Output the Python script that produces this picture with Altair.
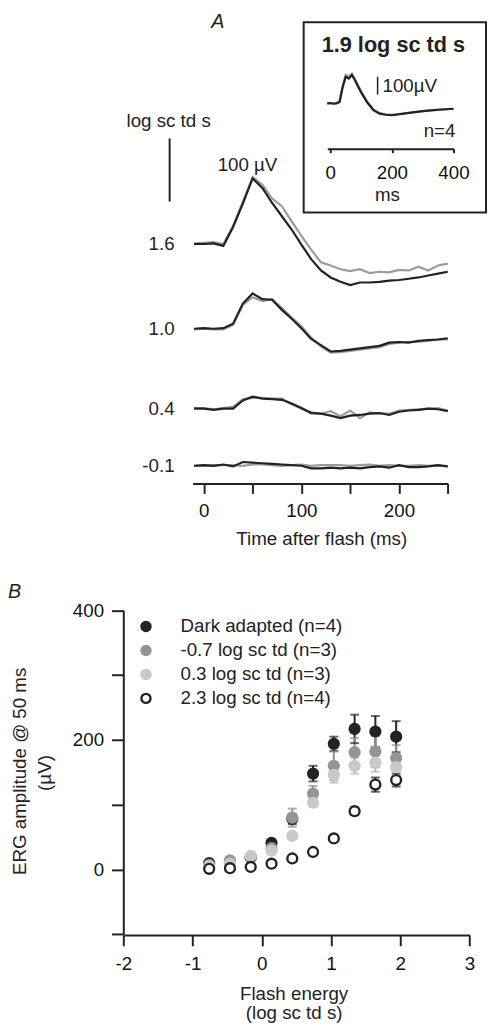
import altair as alt
import pandas as pd

# ---------------- Panel A data: averaged ERG traces (µV) ----------------
t_main = [-10, 0, 10, 20, 30, 40, 50, 60, 70, 80, 90, 100, 110, 120, 130,
          140, 150, 160, 170, 180, 190, 200, 210, 220, 230, 240, 250]
row_labels = ["1.6", "1.0", "0.4", "-0.1"]
dark_16 = [0, 0, 1, -3, 27, 64, 104, 89, 65, 44, 23, -1, -24, -42, -53, -60, -65, -61, -61, -60, -58, -57, -55, -53, -50, -47, -44]
grey_16 = [1, 2, 3, 0, 29, 67, 106, 94, 72, 60, 36, 13, -9, -29, -34, -40, -43, -40, -46, -44, -45, -41, -42, -36, -42, -34, -31]
dark_10 = [0, 1, 0, 1, 8, 40, 56, 47, 46, 30, 16, 1, -16, -26, -36, -35, -33, -31, -29, -27, -22, -21, -22, -19, -18, -17, -15]
grey_10 = [-1, 0, -1, -1, 6, 38, 50, 44, 47, 33, 18, 4, -14, -28, -38, -37, -35, -33, -31, -29, -24, -22, -21, -21, -19, -17, -17]
dark_04 = [0, 0, -2, 0, 0, 13, 19, 16, 15, 14, 8, 1, -7, -8, -11, -15, -11, -10, -8, -7, -10, -5, -3, -2, 0, -1, -4]
grey_04 = [1, 1, -1, 1, 3, 15, 17, 17, 16, 16, 7, 0, -6, -8, -4, -12, -3, -15, -6, -8, -8, -3, -2, -1, 0, 1, -3]
dark_m01 = [0, 1, 0, 2, -1, 6, 5, 4, 3, 2, 1, 0, -4, -4, -3, -4, -3, -4, -2, -1, -3, 1, -2, -2, -1, 1, -1]
grey_m01 = [0, 0, 1, 1, 1, 0, 2, 2, 1, 0, 1, 2, 0, 1, 1, 1, 0, 1, 2, 0, 1, 0, 0, 1, 0, 0, -1]

# inset: 1.9 log sc td s (n=4)
t_inset = [-10, 0, 10, 20, 30, 40, 50, 60, 70, 80, 90, 100, 120, 140, 160, 180, 200, 250, 300, 350, 400]
inset_dark = [0, 2, -2, 0, 8, 90, 150, 140, 160, 130, 95, 62, 5, -38, -58, -64, -67, -55, -44, -36, -30]
inset_grey = [0, 0, 1, 2, 12, 100, 162, 150, 168, 138, 102, 68, 10, -33, -55, -62, -65, -54, -44, -37, -30]

# ---------------- Panel B data: ERG amplitude @ 50 ms (µV) ----------------
energy = [-0.76, -0.46, -0.16, 0.14, 0.44, 0.74, 1.04, 1.34, 1.64, 1.94]
series_names = ["Dark adapted (n=4)", "-0.7 log sc td (n=3)", "0.3 log sc td (n=3)", "2.3 log sc td (n=4)"]
amp_dark = [10, 12, 19, 41, 78, 148, 194, 217, 213, 205]
err_dark = [3, 3, 4, 5, 8, 12, 11, 22, 24, 24]
amp_m07 = [7, 14, 20, 33, 80, 117, 160, 181, 182, 172]
err_m07 = [3, 3, 3, 4, 14, 12, 22, 22, 24, 20]
amp_03 = [5, 9, 21, 29, 52, 103, 146, 160, 165, 158]
err_03 = [2, 2, 3, 3, 4, 6, 12, 12, 14, 14]
amp_23 = [1, 2, 4, 9, 17, 27, 48, 90, 131, 138]
err_23 = [2, 2, 2, 2, 2, 3, 4, 6, 11, 10]

# ---------------- layout / style ----------------
FONT = "Liberation Sans"
INK = "#222222"
TRACE_GREY = "#9c9c9c"
W, H = 486, 1024
row_offsets = [351.6, 217.2, 90.6, 0.0]  # vertical stacking of the trace rows (µV)

xA = alt.Scale(domain=[-11.5, 250], range=[187.3, 446.2], nice=False, zero=False)
yA = alt.Scale(domain=[0, 550], range=[457, 105], nice=False, zero=False)
xI = alt.Scale(domain=[-10, 400], range=[323.9, 452], nice=False, zero=False)
yI = alt.Scale(domain=[-100, 200], range=[107.3, 53.3], nice=False, zero=False)
xB = alt.Scale(domain=[-2, 3], range=[117, 468.3], nice=False, zero=False)
yB = alt.Scale(domain=[-100, 400], range=[932.3, 603.7], nice=False, zero=False)
legY = alt.Scale(type="point", domain=series_names, range=[620, 693], padding=0)

point_fill = ["#232323", "#959595", "#c9c9c9", "#ffffff"]
point_stroke = ["#232323", "#959595", "#c9c9c9", "#232323"]
bar_color = ["#232323", "#8f8f8f", "#b5b5b5", "#232323"]
fill_scale = alt.Scale(domain=series_names, range=point_fill)
stroke_scale = alt.Scale(domain=series_names, range=point_stroke)
bar_scale = alt.Scale(domain=series_names, range=bar_color)

axis_common = dict(grid=False, title=None, domainColor=INK, domainWidth=2, tickColor=INK,
                   tickWidth=2, labelFont=FONT, labelFontSize=19, labelColor="#111111",
                   labelOverlap=False, labelFlush=False)

axisA = alt.Axis(orient="bottom", offset=475 - H, values=[0, 50, 100, 150, 200, 250],
                 labelExpr="datum.value % 100 === 0 ? '' + datum.value : ''",
                 tickSize=10, labelPadding=8, **axis_common)
axisI = alt.Axis(orient="bottom", offset=135.3 - H, values=[0, 200, 400],
                 labelExpr="'' + datum.value",
                 tickSize=4, labelPadding=11, **axis_common)
axisBx = alt.Axis(orient="bottom", offset=933 - H, values=[-2, -1, 0, 1, 2, 3],
                  labelExpr="'' + datum.value",
                  tickSize=11, labelPadding=9, **axis_common)
axisBy = alt.Axis(orient="left", offset=-117, values=[-100, 0, 100, 200, 300, 400],
                  labelExpr="datum.value >= 0 && datum.value % 200 === 0 ? '' + datum.value : ''",
                  tickSize=12, labelPadding=8, **axis_common)

# ---------------- tables ----------------
recs = []
for lab, off, d, g in zip(row_labels, row_offsets,
                          [dark_16, dark_10, dark_04, dark_m01],
                          [grey_16, grey_10, grey_04, grey_m01]):
    for t, vd, vg in zip(t_main, d, g):
        recs.append(dict(row=lab, t=t, series="dark", y=vd + off))
        recs.append(dict(row=lab, t=t, series="grey", y=vg + off))
traces = pd.DataFrame(recs)
rows_df = pd.DataFrame({"row": row_labels, "y": row_offsets})
inset = pd.DataFrame(
    [dict(t=t, v=v, series="dark") for t, v in zip(t_inset, inset_dark)]
    + [dict(t=t, v=v, series="grey") for t, v in zip(t_inset, inset_grey)])

brecs = []
for k, (name, amps, errs) in enumerate(zip(series_names,
                                           [amp_dark, amp_m07, amp_03, amp_23],
                                           [err_dark, err_m07, err_03, err_23])):
    for e, a, s in zip(energy, amps, errs):
        brecs.append(dict(energy=e, amp=a, err=s, series=name, ord=k))
dfB = pd.DataFrame(brecs)
leg_df = pd.DataFrame({"series": series_names})


def txt(s, x, y, size=19, align="center", baseline="alphabetic", angle=0,
        style="normal", weight="normal"):
    return alt.Chart(pd.DataFrame({"s": [s]})).mark_text(
        fontSize=size, align=align, baseline=baseline, angle=angle, font=FONT,
        fontStyle=style, fontWeight=weight, color=INK
    ).encode(x=alt.value(x), y=alt.value(y), text="s:N")


# ---------------- panel A ----------------
grey_tr = alt.Chart(traces).transform_filter("datum.series == 'grey'").mark_line(
    stroke=TRACE_GREY, strokeWidth=2.2).encode(
    x=alt.X("t:Q", scale=xA, axis=axisA), y=alt.Y("y:Q", scale=yA, axis=None), detail="row:N")
dark_tr = alt.Chart(traces).transform_filter("datum.series == 'dark'").mark_line(
    stroke=INK, strokeWidth=2.2).encode(
    x=alt.X("t:Q", scale=xA, axis=None), y=alt.Y("y:Q", scale=yA, axis=None), detail="row:N")
row_text = alt.Chart(rows_df).mark_text(
    font=FONT, fontSize=19, align="right", baseline="middle", color=INK).encode(
    x=alt.value(169), y=alt.Y("y:Q", scale=yA, axis=None), text="row:N")
bar_main = alt.Chart(pd.DataFrame({"lo": [419], "hi": [519]})).mark_rule(
    color=INK, strokeWidth=2).encode(
    x=alt.value(164), y=alt.Y("lo:Q", scale=yA, axis=None), y2="hi:Q")

inset_box = alt.Chart(pd.DataFrame({"a": [0]})).mark_rect(
    fill="white", fillOpacity=0, stroke=INK, strokeWidth=2).encode(
    x=alt.value(300), x2=alt.value(485), y=alt.value(7), y2=alt.value(200))
inset_grey_l = alt.Chart(inset).transform_filter("datum.series == 'grey'").mark_line(
    stroke=TRACE_GREY, strokeWidth=2.2).encode(
    x=alt.X("t:Q", scale=xI, axis=axisI), y=alt.Y("v:Q", scale=yI, axis=None))
inset_dark_l = alt.Chart(inset).transform_filter("datum.series == 'dark'").mark_line(
    stroke=INK, strokeWidth=2.2).encode(
    x=alt.X("t:Q", scale=xI, axis=None), y=alt.Y("v:Q", scale=yI, axis=None))
bar_inset = alt.Chart(pd.DataFrame({"lo": [50], "hi": [150]})).mark_rule(
    color=INK, strokeWidth=1.5).encode(
    x=alt.value(375), y=alt.Y("lo:Q", scale=yI, axis=None), y2="hi:Q")

# ---------------- panel B ----------------
baseB = alt.Chart(dfB).transform_calculate(lo="datum.amp - datum.err", hi="datum.amp + datum.err")
err_rule = baseB.mark_rule(strokeWidth=2).encode(
    x=alt.X("energy:Q", scale=xB, axis=None), y=alt.Y("lo:Q", scale=yB, axis=None), y2="hi:Q",
    color=alt.Color("series:N", scale=bar_scale, legend=None))
cap_lo = baseB.mark_tick(orient="horizontal", size=9, thickness=2).encode(
    x=alt.X("energy:Q", scale=xB, axis=None), y=alt.Y("lo:Q", scale=yB, axis=None),
    color=alt.Color("series:N", scale=bar_scale, legend=None))
cap_hi = baseB.mark_tick(orient="horizontal", size=9, thickness=2).encode(
    x=alt.X("energy:Q", scale=xB, axis=None), y=alt.Y("hi:Q", scale=yB, axis=None),
    color=alt.Color("series:N", scale=bar_scale, legend=None))
pts = alt.Chart(dfB).mark_point(size=100, strokeWidth=2.4, opacity=1, fillOpacity=1).encode(
    x=alt.X("energy:Q", scale=xB, axis=axisBx),
    y=alt.Y("amp:Q", scale=yB, axis=axisBy),
    fill=alt.Fill("series:N", scale=fill_scale, legend=None),
    stroke=alt.Stroke("series:N", scale=stroke_scale, legend=None),
    order=alt.Order("ord:Q"))

# legend (drawn from the series names)
leg_pts = alt.Chart(leg_df).mark_point(size=85, strokeWidth=2.4, opacity=1, fillOpacity=1).encode(
    x=alt.value(140), y=alt.Y("series:N", scale=legY, axis=None),
    fill=alt.Fill("series:N", scale=fill_scale, legend=None),
    stroke=alt.Stroke("series:N", scale=stroke_scale, legend=None))
leg_txt = alt.Chart(leg_df).mark_text(
    font=FONT, fontSize=19, align="left", baseline="middle", color=INK).encode(
    x=alt.value(175), y=alt.Y("series:N", scale=legY, axis=None), text="series:N")

texts = [
    txt("A", 213, 13, size=20, style="italic"),
    txt("log sc td s", 163, 113.7),
    txt("100 µV", 243, 157.7),
    txt("1.9 log sc td s", 391, 37, size=22, weight="bold"),
    txt("100µV", 380, 78, align="left"),
    txt("n=4", 454, 123.7, align="right"),
    txt("ms", 385, 188.7),
    txt("Time after flash (ms)", 318.3, 537.3),
    txt("B", 0, 591.3, size=20, align="left", style="italic"),
    txt("ERG amplitude @ 50 ms", 18, 767, angle=270),
    txt("(µV)", 44, 768.7, angle=270),
    txt("Flash energy", 290.3, 998.7),
    txt("(log sc td s)", 290.3, 1018),
]

chart = alt.layer(
    grey_tr, dark_tr, row_text, bar_main,
    inset_box, inset_grey_l, inset_dark_l, bar_inset,
    err_rule, cap_lo, cap_hi, pts, leg_pts, leg_txt,
    *texts
).resolve_scale(x="independent", y="independent").properties(
    width=W, height=H, padding=0,
    autosize=alt.AutoSizeParams(type="none")
).configure_view(strokeWidth=0)

chart.save("out.html", embed_options={"renderer": "svg", "actions": False})
